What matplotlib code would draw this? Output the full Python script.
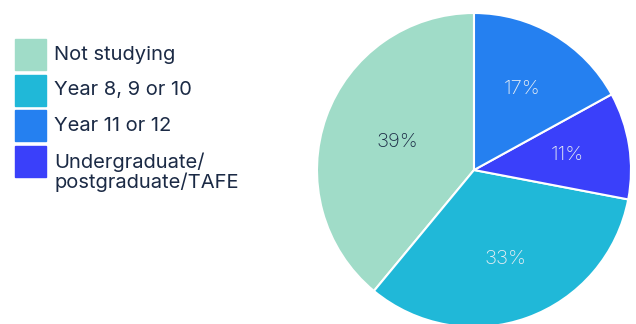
import numpy as np
import matplotlib.pyplot as plt
from matplotlib.patches import Rectangle

plt.rcParams['font.family'] = ['Inter', 'DejaVu Sans']

# share of respondents by current study level
categories = ['Not studying', 'Year 8, 9 or 10', 'Year 11 or 12',
              'Undergraduate/\npostgraduate/TAFE']
shares = [39, 33, 17, 11]
colors = ['#a0dcc8', '#20b8d8', '#2580f0', '#3a40fa']
label_colors = ['#1b2a45', '#e8eef4', '#e8eef4', '#e8eef4']
label_dist = [0.52, 0.6, 0.6, 0.6]

# pie draws counter-clockwise from the top: Not studying, Year 8-10, Undergrad, Year 11-12
pie_order = [0, 1, 3, 2]

fig = plt.figure(figsize=(6.36, 3.24), dpi=100)
ax = fig.add_axes([317 / 636, -3 / 324, 314 / 636, 314 / 324])

wedges, texts, autotexts = ax.pie(
    [shares[i] for i in pie_order],
    colors=[colors[i] for i in pie_order],
    startangle=90,
    counterclock=True,
    autopct='%d%%',
    pctdistance=0.6,
    wedgeprops=dict(edgecolor='white', linewidth=1.5),
    textprops=dict(fontsize=14.5, fontweight='light'),
)
for w, t, i in zip(wedges, autotexts, pie_order):
    t.set_color(label_colors[i])
    mid = np.deg2rad((w.theta1 + w.theta2) / 2)
    t.set_position((label_dist[i] * np.cos(mid), label_dist[i] * np.sin(mid)))
ax.set_xlim(-1, 1)
ax.set_ylim(-1, 1)
ax.set_aspect('equal')

# legend drawn by hand: square swatches with labels on the left
W, H = 636, 324
for k, (name, col) in enumerate(zip(categories, colors)):
    top = 39 + k * 35.5
    fig.patches.append(Rectangle((15 / W, 1 - (top + 31) / H), 31 / W, 31 / H,
                                 transform=fig.transFigure, color=col))
    fig.text(54 / W, 1 - (top + 7) / H, name, fontsize=14.5, color='#1b2a45',
             va='top', ha='left', linespacing=1.05)

fig.savefig('out.png', dpi=100)
